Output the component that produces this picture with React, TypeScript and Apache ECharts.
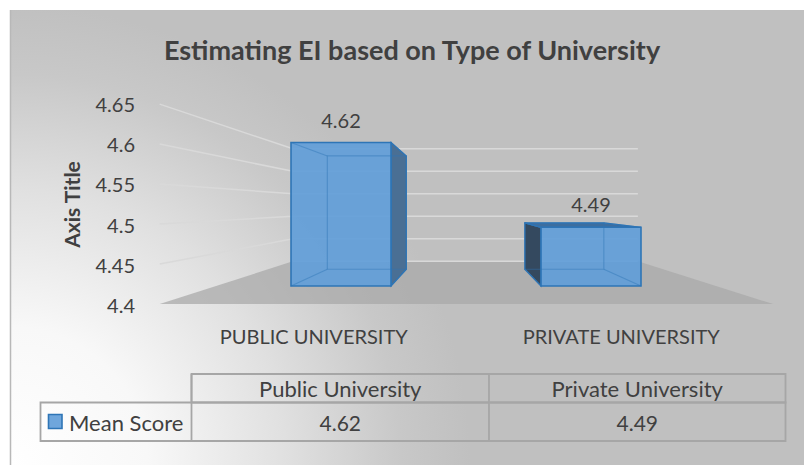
import React, { useEffect, useRef } from "react";
import * as echarts from "echarts";

const TITLE = "Estimating EI based on Type of University";
const CATEGORIES = ["Public University", "Private University"];
const SERIES_NAME = "Mean Score";
const MEAN_SCORES = [4.62, 4.49];
const Y_MIN = 4.4;
const Y_MAX = 4.65;
const Y_STEP = 0.05;
const Y_TICKS = [4.4, 4.45, 4.5, 4.55, 4.6, 4.65];
const Y_AXIS_TITLE = "Axis Title";

// perspective parameters (depth scale of planes relative to bar front plane)
const S_FRONT = 1.227;
const S_BACK = 0.79;
const S_WALL = 0.69;
const EYE_X = 0.496;
const EYE_Y = 0.511;

const FONT = "Lato";
const TEXT = "#404040";

function makeProjector(cs: any) {
  const vx = cs.x + cs.width * EYE_X;
  const vy = cs.y + cs.height * EYE_Y;
  const P = (x: number, y: number, s: number) => [vx + s * (x - vx), vy + s * (y - vy)];
  return { vx, vy, P };
}

export default function App() {
  const ref = useRef<HTMLDivElement>(null);
  useEffect(() => {
    if (!ref.current) return;
    const chart = echarts.init(ref.current, undefined, { renderer: "svg" });

    const wallItem = (params: any, api: any) => {
      const cs = params.coordSys;
      const { P } = makeProjector(cs);
      const v = api.value(1);
      const y = api.coord([0, v])[1];
      const xl = cs.x;
      const xr = cs.x + cs.width;
      const children: any[] = [];
      if (Math.abs(v - Y_MIN) < 1e-9) {
        children.push({
          type: "polygon",
          shape: { points: [P(xl, y, S_FRONT), P(xr, y, S_FRONT), P(xr, y, S_WALL), P(xl, y, S_WALL)] },
          style: { fill: "rgba(168,168,168,0.72)" },
        });
      } else {
        const a = P(xl, y, S_FRONT);
        const b = P(xl, y, S_WALL);
        children.push({
          type: "line",
          shape: { x1: a[0], y1: a[1], x2: b[0], y2: b[1] },
          style: { stroke: "#d9d9d9", lineWidth: 1.5 },
        });
      }
      const b1 = P(xl, y, S_WALL);
      const b2 = P(xr, y, S_WALL);
      children.push({
        type: "line",
        shape: { x1: b1[0], y1: b1[1], x2: b2[0], y2: b2[1] },
        style: { stroke: "#d9d9d9", lineWidth: 1.5 },
      });
      return { type: "group", children };
    };

    const barItem = (params: any, api: any) => {
      const cs = params.coordSys;
      const { vx, vy, P } = makeProjector(cs);
      const i = api.value(0);
      const v = api.value(1);
      const top = api.coord([i, v]);
      const bot = api.coord([i, Y_MIN]);
      const hw = api.size([1, 0])[0] * 0.2;
      const x0 = top[0] - hw;
      const x1 = top[0] + hw;
      const yt = top[1];
      const yb = bot[1];
      const F = { tl: [x0, yt], tr: [x1, yt], br: [x1, yb], bl: [x0, yb] };
      const B = { tl: P(x0, yt, S_BACK), tr: P(x1, yt, S_BACK), br: P(x1, yb, S_BACK), bl: P(x0, yb, S_BACK) };
      const edge = "#2e75b6";
      const children: any[] = [];
      const line = (a: number[], b: number[], stroke: string, w = 1.2) => ({
        type: "line",
        shape: { x1: a[0], y1: a[1], x2: b[0], y2: b[1] },
        style: { stroke, lineWidth: w },
      });
      if (x1 < vx) {
        children.push({
          type: "polygon",
          shape: { points: [F.tr, B.tr, B.br, F.br] },
          style: { fill: "#4a6f94", stroke: edge, lineWidth: 1.2 },
        });
      }
      if (x0 > vx) {
        children.push({
          type: "polygon",
          shape: { points: [F.tl, B.tl, B.bl, F.bl] },
          style: { fill: "#34495f", stroke: edge, lineWidth: 1.2 },
        });
      }
      if (yt > vy) {
        children.push({
          type: "polygon",
          shape: { points: [F.tl, F.tr, B.tr, B.tl] },
          style: { fill: "#3d6e9f", stroke: edge, lineWidth: 1.2 },
        });
      }
      children.push({
        type: "rect",
        shape: { x: x0, y: yt, width: x1 - x0, height: yb - yt },
        style: { fill: "rgba(98,158,216,0.93)", stroke: edge, lineWidth: 1.6 },
      });
      const inner = "rgba(46,117,182,0.45)";
      children.push({
        type: "polygon",
        shape: { points: [B.tl, B.tr, B.br, B.bl] },
        style: { fill: "none", stroke: inner, lineWidth: 1.2 },
      });
      children.push(line(F.tl, B.tl, inner));
      children.push(line(F.tr, B.tr, inner));
      children.push(line(F.br, B.br, inner));
      children.push(line(F.bl, B.bl, inner));
      children.push({
        type: "text",
        style: {
          text: String(v),
          x: top[0],
          y: yt - 23,
          align: "center",
          verticalAlign: "middle",
          fill: TEXT,
          fontSize: 20,
          fontFamily: FONT,
        },
      });
      return { type: "group", children };
    };

    const TL = 40.5, C1 = 191.5, C2 = 489, TR = 785.5;
    const R0 = 374, R1 = 402.5, R2 = 441;
    const border = { stroke: "#a6a6a6", lineWidth: 1.8, fill: "none" };
    const colCenters = [(C1 + C2) / 2, (C2 + TR) / 2];

    const tableEls: any[] = [
      { type: "rect", shape: { x: C1, y: R0, width: TR - C1, height: R1 - R0 }, style: border, z: 5 },
      { type: "rect", shape: { x: TL, y: R1, width: TR - TL, height: R2 - R1 }, style: border, z: 5 },
      { type: "line", shape: { x1: C1, y1: R0, x2: C1, y2: R2 }, style: border, z: 5 },
      { type: "line", shape: { x1: C2, y1: R0, x2: C2, y2: R2 }, style: border, z: 5 },
      {
        type: "rect",
        shape: { x: 48.5, y: 414.5, width: 13.5, height: 14 },
        style: { fill: "#6fa6dc", stroke: "#2e75b6", lineWidth: 1.6 },
        z: 5,
      },
      {
        type: "text",
        x: 69,
        y: 422,
        style: { text: SERIES_NAME, align: "left", verticalAlign: "middle", fill: TEXT, fontSize: 22, fontFamily: FONT },
        z: 5,
      },
      ...CATEGORIES.map((c, k) => ({
        type: "text",
        x: colCenters[k],
        y: 388,
        style: { text: c, align: "center", verticalAlign: "middle", fill: TEXT, fontSize: 22, fontFamily: FONT },
        z: 5,
      })),
      ...MEAN_SCORES.map((v, k) => ({
        type: "text",
        x: colCenters[k],
        y: 422,
        style: { text: v.toFixed(2), align: "center", verticalAlign: "middle", fill: TEXT, fontSize: 21, fontFamily: FONT },
        z: 5,
      })),
    ];

    const option: any = {
      animation: false,
      backgroundColor: "#ffffff",
      textStyle: { fontFamily: FONT },
      title: {
        text: TITLE,
        left: 412,
        top: 36,
        textAlign: "center",
        padding: 0,
        textStyle: { fontSize: 27, fontWeight: "bold", color: TEXT, fontFamily: FONT },
      },
      graphic: {
        elements: [
          {
            type: "rect",
            z: -100,
            silent: true,
            shape: { x: 10, y: 10, width: 794, height: 455 },
            style: {
              fill: {
                type: "radial",
                x: 10,
                y: 465,
                r: 460,
                global: true,
                colorStops: [
                  { offset: 0, color: "#ffffff" },
                  { offset: 0.3, color: "#f8f8f8" },
                  { offset: 0.6, color: "#e0e0e0" },
                  { offset: 0.85, color: "#c8c8c8" },
                  { offset: 1, color: "#c0c0c0" },
                ],
              },
            },
          },
          {
            type: "line",
            z: -99,
            silent: true,
            shape: { x1: 10.5, y1: 10, x2: 10.5, y2: 465 },
            style: { stroke: "#b8b8b8", lineWidth: 1.5 },
          },
          ...tableEls,
        ],
      },
      grid: [
        { left: 216, right: 88, top: 123, bottom: 179 },
        { left: 160, right: 29, top: 104, bottom: 160 },
      ],
      xAxis: [
        { type: "category", gridIndex: 0, data: CATEGORIES, show: false },
        {
          type: "category",
          gridIndex: 1,
          data: CATEGORIES.map((c) => c.toUpperCase()),
          z: 10,
          axisLine: {
            show: true,
            lineStyle: { color: "#3a3a3a", width: 3.5, cap: "round", shadowColor: "rgba(0,0,0,0.35)", shadowBlur: 2, shadowOffsetY: 1 },
          },
          axisTick: { show: false },
          axisLabel: { color: TEXT, fontSize: 20, fontFamily: FONT, margin: 21 },
          splitLine: { show: false },
        },
      ],
      yAxis: [
        { type: "value", gridIndex: 0, min: Y_MIN, max: Y_MAX, interval: Y_STEP, show: false },
        {
          type: "value",
          gridIndex: 1,
          min: Y_MIN,
          max: Y_MAX,
          interval: Y_STEP,
          axisLine: { show: false },
          axisTick: { show: false },
          splitLine: { show: false },
          axisLabel: { color: TEXT, fontSize: 20, fontFamily: FONT, margin: 25 },
          name: Y_AXIS_TITLE,
          nameLocation: "middle",
          nameRotate: 90,
          nameGap: 78,
          nameTextStyle: { color: TEXT, fontSize: 21, fontWeight: "bold", fontFamily: FONT },
        },
      ],
      series: [
        {
          type: "custom",
          name: "walls",
          xAxisIndex: 0,
          yAxisIndex: 0,
          clip: false,
          silent: true,
          z: 1,
          renderItem: wallItem,
          data: Y_TICKS.map((t) => [0, t]),
        },
        {
          type: "custom",
          name: SERIES_NAME,
          xAxisIndex: 0,
          yAxisIndex: 0,
          clip: false,
          silent: true,
          z: 3,
          renderItem: barItem,
          encode: { x: 0, y: 1 },
          data: MEAN_SCORES.map((v, i) => [i, v]),
        },
      ],
    };
    chart.setOption(option);
    return () => chart.dispose();
  }, []);
  return <div ref={ref} style={{ position: "absolute", left: 0, top: 0, width: 804, height: 465 }} />;
}
